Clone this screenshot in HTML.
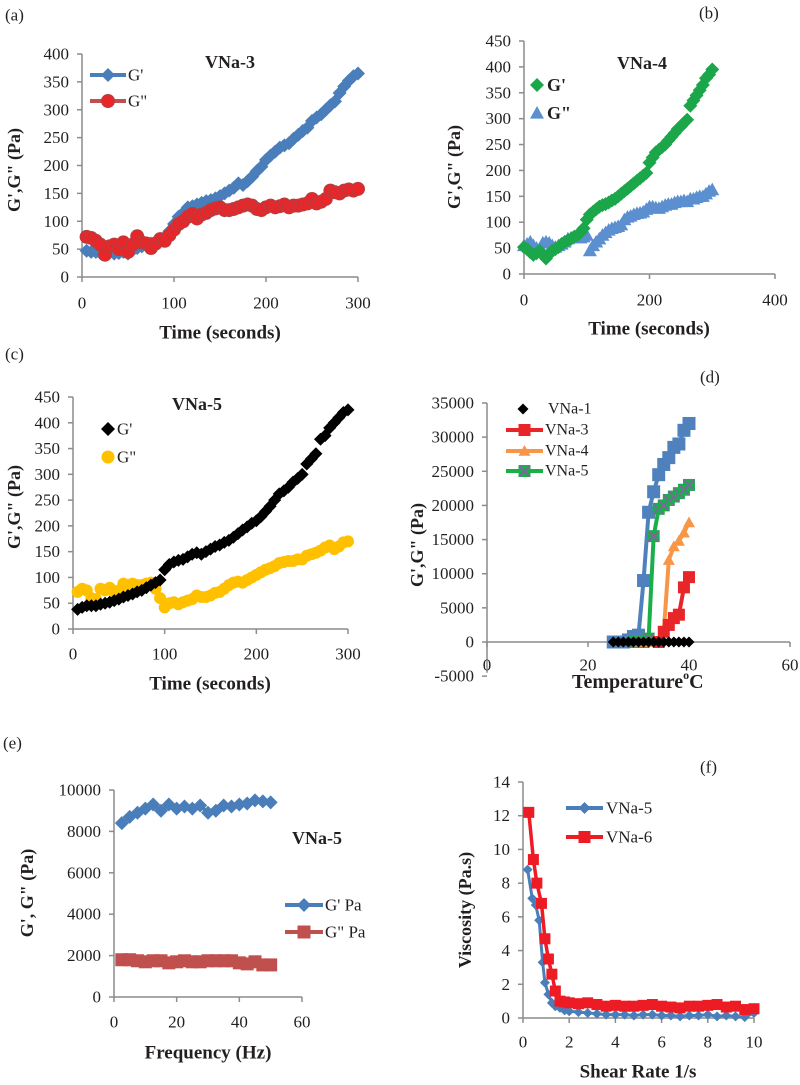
<!DOCTYPE html>
<html><head><meta charset="utf-8"><style>
html,body{margin:0;padding:0;background:#fff}
svg{display:block;font-family:"Liberation Serif","Times New Roman",serif}
svg text{font-family:"Liberation Serif","Times New Roman",serif}
</style></head><body>
<svg id="fig" width="800" height="1085" viewBox="0 0 800 1085" xmlns="http://www.w3.org/2000/svg" font-family="Liberation Serif, serif"></svg>
<script>
// ---- data ----
const tA = [5,10,15,20,25,30,35,40,45,50,55,60,65,70,75,80,85,90,95,100,105,110,115,120,125,130,135,140,145,150,155,160,165,170,175,180,185,190,195,200,205,210,215,220,225,230,235,240,245,250,255,260,265,270,275,280,285,290,295,300];
const aG1 = [47,45,45,43,42,45,42,43,45,42,48,52,55,57,60,63,68,72,82,95,108,115,125,127,130,133,136,138,141,145,150,155,160,168,165,172,180,190,198,210,218,225,232,236,240,248,255,262,268,280,286,292,300,308,315,330,342,352,360,365];
const aG2 = [72,70,65,58,40,55,58,50,62,45,58,73,62,60,52,60,68,65,75,85,95,100,108,113,105,112,115,120,123,125,120,120,122,125,128,130,128,122,120,125,128,125,127,130,125,128,128,130,132,140,132,135,140,155,152,150,155,157,155,158];
const tB = [0,5,10,15,20,25,30,35,40,45,50,55,60,65,70,75,80,85,90,95,100,105,110,115,120,125,130,135,140,145,150,155,160,165,170,175,180,185,190,195,200,205,210,215,220,225,230,235,240,245,250,255,260,265,270,275,280,285,290,295,300];
const bG1 = [52,48,42,37,40,45,38,30,38,45,48,52,58,62,65,68,72,75,80,88,105,115,120,125,130,133,135,138,142,145,150,155,160,165,170,175,180,185,190,195,215,225,235,240,245,250,258,265,272,280,285,292,298,325,335,345,355,365,378,385,395];
const bG2 = [55,58,62,55,50,48,60,62,60,55,52,55,58,62,68,70,72,72,70,72,75,45,55,62,68,75,80,85,88,90,92,95,105,110,112,115,117,118,120,125,130,130,128,127,130,133,135,135,138,140,140,142,140,145,145,148,150,150,155,160,163];
const tC = tA;
const cG1 = [38,42,45,45,45,48,50,52,55,58,62,65,68,72,75,80,85,90,95,115,125,130,133,135,140,145,148,145,150,155,160,163,168,172,178,185,192,198,205,210,218,228,238,250,262,268,275,285,292,300,320,330,340,368,375,390,400,410,420,425];
const cG2 = [72,78,75,60,58,78,75,80,72,75,88,85,88,85,85,88,90,78,60,42,50,52,48,52,55,58,65,62,62,65,70,72,78,85,90,92,90,95,100,105,110,115,118,122,128,130,132,132,135,135,142,145,148,152,158,162,155,160,168,170];
const tempD = [25,26,27,28,29,30,31,32,33,34,35,36,37,38,39,40];
const dBlue = [0,0,0,300,800,1000,9000,19000,22000,24500,26000,27000,28500,29000,31000,32000];
const dV1 = [0,0,0,0,0,0,0,0,0,0,0,0,0,0,0,0];
const tempD3 = [34,35,36,37,38,39,40];
const dV3 = [0,1500,2500,3500,4000,8000,9500];
const tempD4 = [30,31,32,33,34,35,36,37,38,39,40];
const dV4 = [0,0,0,0,0,1500,12000,14000,14800,16000,17500];
const tempD5 = [29,30,31,32,33,34,35,36,37,38,39,40];
const dV5 = [0,0,0,500,15500,19500,20000,20800,21300,21800,22300,23000];
const freqE = [2.5,5,7.5,10,12.5,15,17.5,20,22.5,25,27.5,30,32.5,35,37.5,40,42.5,45,47.5,50];
const eG1 = [8400,8700,8900,9100,9300,9000,9300,9100,9200,9100,9250,8900,9000,9250,9200,9300,9350,9500,9450,9400];
const eG2 = [1800,1800,1750,1700,1750,1750,1650,1700,1750,1700,1700,1750,1750,1750,1750,1650,1600,1700,1550,1550];
const rateF5 = [0.2,0.4,0.55,0.7,0.85,0.95,1.1,1.25,1.4,1.6,1.8,2,2.4,2.8,3.2,3.6,4,4.4,4.8,5.2,5.6,6,6.4,6.8,7.2,7.6,8,8.4,8.8,9.2,9.6,10];
const f5 = [8.8,7.1,6.7,5.8,3.3,2.1,1.4,0.9,0.7,0.6,0.45,0.4,0.35,0.3,0.25,0.2,0.2,0.2,0.15,0.2,0.2,0.15,0.15,0.1,0.15,0.15,0.2,0.1,0.15,0.1,0.05,0.3];
const rateF6 = [0.25,0.45,0.6,0.8,0.95,1.1,1.25,1.4,1.6,1.8,2,2.4,2.8,3.2,3.6,4,4.4,4.8,5.2,5.6,6,6.4,6.8,7.2,7.6,8,8.4,8.8,9.2,9.6,10];
const f6 = [12.2,9.4,8.0,6.8,4.7,3.5,2.6,1.6,1.0,0.95,0.9,0.85,0.9,0.8,0.7,0.75,0.7,0.7,0.75,0.8,0.7,0.65,0.6,0.7,0.7,0.75,0.8,0.65,0.7,0.5,0.55];

const NS = "http://www.w3.org/2000/svg";
const svg = document.getElementById('fig');
function el(tag, attrs, parent){
  const e = document.createElementNS(NS, tag);
  for (const k in attrs) e.setAttribute(k, attrs[k]);
  (parent||svg).appendChild(e);
  return e;
}
function txt(s, x, y, size, opts, name){
  const t = el('text', Object.assign({x:x, y:y, 'font-size':size, 'font-family':'Liberation Serif, serif', 'dominant-baseline':'central', fill:'#231f20'}, opts||{}));
  t.textContent = s;
  
  
  return t;
}
function makeAxes(p){
  const sx = v => p.x0 + (v - p.xmin) / (p.xmax - p.xmin) * (p.x1 - p.x0);
  const sy = v => p.y0 + (v - p.ymin) / (p.ymax - p.ymin) * (p.y1 - p.y0);
  const g = el('g', {});
  
  
  const xAxisY = p.xAxisAt !== undefined ? sy(p.xAxisAt) : p.y0;
  const yBottom = p.yAxisBottom !== undefined ? sy(p.yAxisBottom) : p.y0;
  const ya = el('line', {x1:p.x0, x2:p.x0, y1:p.y1, y2:yBottom, stroke:'#8c8c8c', 'stroke-width':1.5}, g);
  
  
  const xa = el('line', {x1:p.x0, x2:p.x1, y1:xAxisY, y2:xAxisY, stroke:'#8c8c8c', 'stroke-width':1.5}, g);
  
  
  for (const v of p.yticks){
    const y = sy(v);
    el('line', {x1:p.x0-5, x2:p.x0, y1:y, y2:y, stroke:'#8c8c8c', 'stroke-width':1.5}, g);
    txt(String(v), p.x0-13, y, p.tfs||17, {'text-anchor':'end'}, p.name+'-y-tick-label');
  }
  for (const v of p.xticks){
    const x = sx(v);
    el('line', {x1:x, x2:x, y1:xAxisY, y2:xAxisY+5, stroke:'#8c8c8c', 'stroke-width':1.5}, g);
    txt(String(v), x, p.xlabY, p.tfs||17, {'text-anchor':'middle'}, p.name+'-x-tick-label');
  }
  return {sx, sy};
}
function marker(shape, x, y, s, fill, stroke, name){
  let m;
  if (shape==='diamond') m = el('polygon', {points:`${x},${y-s} ${x+s},${y} ${x},${y+s} ${x-s},${y}`, fill:fill});
  else if (shape==='circle') m = el('circle', {cx:x, cy:y, r:s, fill:fill, stroke:stroke||'none', 'stroke-width':1});
  else if (shape==='square') m = el('rect', {x:x-s, y:y-s, width:2*s, height:2*s, fill:fill});
  else if (shape==='triangle') m = el('polygon', {points:`${x},${y-s} ${x+s},${y+s*0.8} ${x-s},${y+s*0.8}`, fill:fill});
  else if (shape==='xsq'){
    m = el('rect', {x:x-s, y:y-s, width:2*s, height:2*s, fill:fill});
    el('path', {d:`M${x-s+1},${y-s+1}L${x+s-1},${y+s-1}M${x+s-1},${y-s+1}L${x-s+1},${y+s-1}`, stroke:stroke, 'stroke-width':2});
  }
  
  
  return m;
}
function series(ax, xs, ys, o){
  if (o.line){
    const pts = xs.map((x,i)=>ax.sx(x)+','+ax.sy(ys[i])).join(' ');
    const l = el('polyline', {points:pts, fill:'none', stroke:o.line, 'stroke-width':o.lw||3.5, 'stroke-linejoin':'round'});
    
    
  }
  xs.forEach((x,i)=>marker(o.shape, ax.sx(x), ax.sy(ys[i]), o.size, o.fill, o.stroke, o.name + '-point'));
}
function legendLine(x1, x2, y, color, shape, size, fill, stroke, label, tx, fs, bold, name){
  const l = el('line', {x1:x1, x2:x2, y1:y, y2:y, stroke:color, 'stroke-width':4});
  
  
  marker(shape, (x1+x2)/2, y, size, fill, stroke, name + '-marker');
  txt(label, tx, y, fs, bold?{'font-weight':'bold'}:{}, name + '-label');
}
function ytitle(s, x, y, name){
  txt(s, x, y, 18, {'font-weight':'bold','text-anchor':'middle', transform:`rotate(-90 ${x} ${y})`}, name);
}

// ---- panel a ----
txt('(a)', 5, 15, 17, {}, 'panel-a-label');
const axA = makeAxes({name:'panel-a', x0:82, x1:358, xmin:0, xmax:300, y0:277, y1:54, ymin:0, ymax:400, yticks:[0,50,100,150,200,250,300,350,400], xticks:[0,100,200,300], xlabY:303});
series(axA, tA, aG1, {shape:'diamond', size:7, fill:'#4a7ebb', line:'#4a7ebb', name:'a-g-prime'});
series(axA, tA, aG2, {shape:'circle', size:6.5, fill:'#e8262a', stroke:'#b34040', line:'#c0504d', name:'a-g-double-prime'});
txt('VNa-3', 230, 62, 18, {'font-weight':'bold','text-anchor':'middle'}, 'panel-a-title');
legendLine(90, 126, 75, '#4a7ebb', 'diamond', 7, '#4a7ebb', null, "G'", 128, 17, false, 'legend-a-g-prime');
legendLine(90, 126, 101, '#c0504d', 'circle', 6.5, '#e8262a', '#b34040', 'G"', 128, 17, false, 'legend-a-g-double-prime');
txt('Time (seconds)', 220, 333, 19, {'font-weight':'bold','text-anchor':'middle'}, 'panel-a-x-title');
ytitle('G\',G" (Pa)', 14, 170, 'panel-a-y-title');

// ---- panel b ----
txt('(b)', 699, 13, 17, {}, 'panel-b-label');
const axB = makeAxes({name:'panel-b', x0:524, x1:775, xmin:0, xmax:400, y0:274, y1:41, ymin:0, ymax:450, yticks:[0,50,100,150,200,250,300,350,400,450], xticks:[0,200,400], xlabY:300});
series(axB, tB, bG2, {shape:'triangle', size:7, fill:'#5b8fd0', name:'b-g-double-prime'});
series(axB, tB, bG1, {shape:'diamond', size:7, fill:'#1ba64a', name:'b-g-prime'});
txt('VNa-4', 642, 63, 18, {'font-weight':'bold','text-anchor':'middle'}, 'panel-b-title');
marker('diamond', 537, 85, 7, '#1ba64a', null, 'legend-b-g-prime-marker');
txt("G'", 547, 85, 18, {'font-weight':'bold'}, 'legend-b-g-prime-label');
marker('triangle', 537, 113, 7, '#5b8fd0', null, 'legend-b-g-double-prime-marker');
txt('G"', 547, 113, 18, {'font-weight':'bold'}, 'legend-b-g-double-prime-label');
txt('Time (seconds)', 649, 329, 19, {'font-weight':'bold','text-anchor':'middle'}, 'panel-b-x-title');
ytitle('G\',G" (Pa)', 454, 167, 'panel-b-y-title');

// ---- panel c ----
txt('(c)', 5, 354, 17, {}, 'panel-c-label');
const axC = makeAxes({name:'panel-c', x0:73, x1:348, xmin:0, xmax:300, y0:629, y1:397, ymin:0, ymax:450, yticks:[0,50,100,150,200,250,300,350,400,450], xticks:[0,100,200,300], xlabY:654});
series(axC, tC, cG2, {shape:'circle', size:6, fill:'#ffc000', name:'c-g-double-prime'});
series(axC, tC, cG1, {shape:'diamond', size:6.5, fill:'#000', name:'c-g-prime'});
txt('VNa-5', 197, 404, 18, {'font-weight':'bold','text-anchor':'middle'}, 'panel-c-title');
marker('diamond', 108, 429, 7, '#000', null, 'legend-c-g-prime-marker');
txt("G'", 117, 429, 17, {}, 'legend-c-g-prime-label');
marker('circle', 108, 457, 6.5, '#ffc000', null, 'legend-c-g-double-prime-marker');
txt('G"', 117, 457, 17, {}, 'legend-c-g-double-prime-label');
txt('Time (seconds)', 210, 684, 19, {'font-weight':'bold','text-anchor':'middle'}, 'panel-c-x-title');
ytitle('G\',G" (Pa)', 14, 507, 'panel-c-y-title');

// ---- panel d ----
txt('(d)', 700, 377, 17, {}, 'panel-d-label');
const axD = makeAxes({name:'panel-d', x0:487, x1:790, xmin:0, xmax:60, y0:642, y1:403, ymin:0, ymax:35000, yticks:[-5000,0,5000,10000,15000,20000,25000,30000,35000], xticks:[0,20,40,60], xlabY:665, xAxisAt:0, yAxisBottom:-4500});
series(axD, tempD, dBlue, {shape:'square', size:6.5, fill:'#4f81bd', line:'#4f81bd', lw:4, name:'d-series-blue'});
series(axD, tempD5, dV5, {shape:'xsq', size:6, fill:'#1baf4a', stroke:'#8064a2', line:'#1baf4a', lw:4, name:'d-vna-5'});
series(axD, tempD4, dV4, {shape:'triangle', size:6, fill:'#f79646', line:'#f79646', lw:4, name:'d-vna-4'});
series(axD, tempD3, dV3, {shape:'square', size:6, fill:'#e8262a', line:'#e8262a', lw:4, name:'d-vna-3'});
series(axD, tempD, dV1, {shape:'diamond', size:5.5, fill:'#000', name:'d-vna-1'});
marker('diamond', 523, 409, 5.5, '#000', null, 'legend-d-vna-1-marker');
txt('VNa-1', 548, 409, 16, {}, 'legend-d-vna-1-label');
legendLine(506, 543, 430, '#e8262a', 'square', 6, '#e8262a', null, 'VNa-3', 545, 16, false, 'legend-d-vna-3');
legendLine(506, 543, 451, '#f79646', 'triangle', 6, '#f79646', null, 'VNa-4', 545, 16, false, 'legend-d-vna-4');
legendLine(506, 543, 471, '#1baf4a', 'xsq', 6, '#1baf4a', '#8064a2', 'VNa-5', 545, 16, false, 'legend-d-vna-5');
const tt = txt('Temperature', 572, 682, 20, {'font-weight':'bold'}, 'panel-d-x-title');
const ts = el('tspan', {'font-size':12, dy:-7}, tt); ts.textContent = 'o';
const ts2 = el('tspan', {dy:7}, tt); ts2.textContent = 'C';
ytitle('G\',G" (Pa)', 417, 545, 'panel-d-y-title');

// ---- panel e ----
txt('(e)', 3, 743, 17, {}, 'panel-e-label');
const axE = makeAxes({name:'panel-e', x0:114, x1:302, xmin:0, xmax:60, y0:997, y1:790, ymin:0, ymax:10000, yticks:[0,2000,4000,6000,8000,10000], xticks:[0,20,40,60], xlabY:1022});
series(axE, freqE, eG1, {shape:'diamond', size:7, fill:'#4a7ebb', line:'#4a7ebb', name:'e-g-prime'});
series(axE, freqE, eG2, {shape:'square', size:6.5, fill:'#c0504d', line:'#c0504d', name:'e-g-double-prime'});
txt('VNa-5', 317, 838, 18, {'font-weight':'bold','text-anchor':'middle'}, 'panel-e-title');
legendLine(285, 323, 905, '#4a7ebb', 'diamond', 7, '#4a7ebb', null, "G' Pa", 325, 17, false, 'legend-e-g-prime');
legendLine(285, 323, 932, '#c0504d', 'square', 6.5, '#c0504d', null, 'G" Pa', 325, 17, false, 'legend-e-g-double-prime');
txt('Frequency (Hz)', 208, 1053, 19, {'font-weight':'bold','text-anchor':'middle'}, 'panel-e-x-title');
ytitle('G\', G" (Pa)', 27, 893, 'panel-e-y-title');

// ---- panel f ----
txt('(f)', 700, 767, 17, {}, 'panel-f-label');
const axF = makeAxes({name:'panel-f', x0:523, x1:754, xmin:0, xmax:10, y0:1018, y1:782, ymin:0, ymax:14, yticks:[0,2,4,6,8,10,12,14], xticks:[0,2,4,6,8,10], xlabY:1042});
series(axF, rateF5, f5, {shape:'diamond', size:5, fill:'#4a7ebb', line:'#4a7ebb', lw:3, name:'f-vna-5'});
series(axF, rateF6, f6, {shape:'square', size:5.5, fill:'#ed1c24', line:'#ed1c24', lw:3.5, name:'f-vna-6'});
legendLine(566, 603, 808, '#4a7ebb', 'diamond', 6, '#4a7ebb', null, 'VNa-5', 606, 17, false, 'legend-f-vna-5');
legendLine(566, 603, 837, '#ed1c24', 'square', 6, '#ed1c24', null, 'VNa-6', 606, 17, false, 'legend-f-vna-6');
txt('Shear Rate 1/s', 638, 1072, 19, {'font-weight':'bold','text-anchor':'middle'}, 'panel-f-x-title');
ytitle('Viscosity (Pa.s)', 465, 910, 'panel-f-y-title');
</script>
</body></html>
